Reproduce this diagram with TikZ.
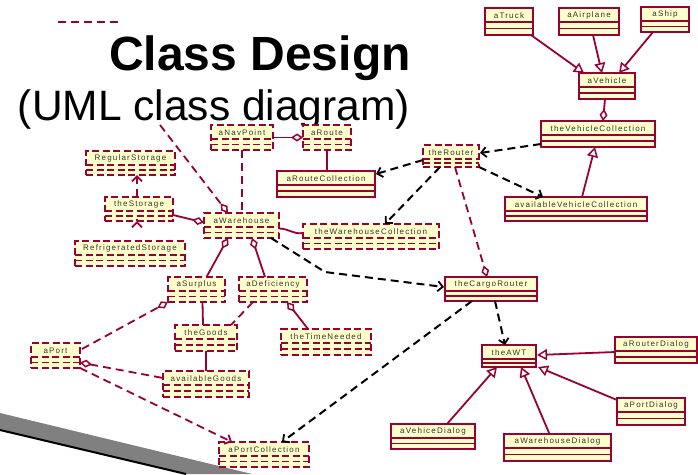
\documentclass[tikz,border=0pt]{standalone}
\usepackage{fontspec}
\setmainfont{Liberation Sans}
\newfontfamily\lblfont[LetterSpace=15]{Liberation Sans}
\usetikzlibrary{arrows.meta,calc}
\definecolor{umlred}{RGB}{153,0,51}
\definecolor{umlfill}{RGB}{255,255,204}
\definecolor{umlgray}{RGB}{128,128,128}
\tikzset{
  clsbox/.style={draw=umlred, fill=umlfill, line width=1.8pt, inner sep=0pt, outer sep=0pt},
  clsline/.style={draw=umlred, line width=1.8pt},
  objdash/.style={dash pattern=on 7pt off 3.5pt},
  plain/.style={solid},
  lbl/.style={font=\lblfont\fontsize{8}{9}\selectfont, text=black!80, inner sep=0pt},
  assoc/.style={draw=umlred, line width=1.8pt},
  rdash/.style={draw=umlred, line width=1.8pt, dash pattern=on 8pt off 5pt},
  bdash/.style={draw=black, line width=2pt, dash pattern=on 8pt off 5pt},
  gen/.style={assoc, -{Triangle[length=10pt,width=11pt,fill=white,line width=1.5pt]}},
  aggend/.style={-{Diamond[length=12pt,width=8pt,fill=white,line width=1.5pt]}},
  aggstart/.style={{Diamond[length=12pt,width=8pt,fill=white,line width=1.5pt]}-},
  barb/.style={-{Straight Barb[length=5pt,width=10pt,line width=1.8pt]}},
}
\newcommand\umlcls[7]{%
  \node[clsbox,#1,minimum width={(#5-#3)*1pt},minimum height={(#6-#4)*1pt},anchor=north west] (#2) at (#3,#4) {};
  \draw[clsline,#1] (#3,{#4+14}) -- (#5,{#4+14});
  \draw[clsline,#1] (#3,{(#4+14+#6)/2}) -- (#5,{(#4+14+#6)/2});
  \node[lbl] (#2-label) at ({(#3+#5)/2},{#4+7.5}) {#7};
}
\begin{document}
\begin{tikzpicture}[x=1pt,y=-1pt]
\path[fill=white, use as bounding box] (0,0) rectangle (698,474);
% gray bar
\fill[umlgray] (0,413) -- (252,474) -- (186,474) -- (0,430) -- cycle;
\coordinate (g1) at (0,430);
\coordinate (g2) at (186,474);
\draw[black, line width=2pt] (g1) -- (g2);
% stray dashed line
\coordinate (s1) at (58,22);
\coordinate (s2) at (122,22);
\draw[rdash, line width=1.4pt] (s1) -- (s2);
% titles
\node[anchor=base, inner sep=0pt, font=\fontsize{48}{50}\selectfont\bfseries] (title) at (260,70) {Class Design};
\node[anchor=base, inner sep=0pt, font=\fontsize{42.5}{44}\selectfont] (subtitle) at (214,120) {(UML class diagram)};

% classes (solid)
\umlcls{plain}{aTruck}{485}{8}{533}{35}{aTruck}
\umlcls{plain}{aAirplane}{559}{8}{619}{35}{aAirplane}
\umlcls{plain}{aShip}{641}{7}{689}{32}{aShip}
\umlcls{plain}{aVehicle}{579}{73}{635}{99}{aVehicle}
\umlcls{plain}{theVehicleCollection}{541}{121}{655}{147}{theVehicleCollection}
\umlcls{plain}{availableVehicleCollection}{505}{197}{647}{221}{availableVehicleCollection}
\umlcls{plain}{aRouteCollection}{277}{171}{375}{197}{aRouteCollection}
\umlcls{plain}{theCargoRouter}{445}{277}{537}{301}{theCargoRouter}
\umlcls{plain}{theAWT}{482}{345}{536}{367}{theAWT}
\umlcls{plain}{aRouterDialog}{615}{337}{697}{363}{aRouterDialog}
\umlcls{plain}{aPortDialog}{617}{398}{685}{425}{aPortDialog}
\umlcls{plain}{aVehiceDialog}{391}{424}{475}{449}{aVehiceDialog}
\umlcls{plain}{aWarehouseDialog}{504}{434}{611}{461}{aWarehouseDialog}
% objects (dashed)
\umlcls{objdash}{theRouter}{423}{145}{479}{167}{theRouter}
\umlcls{objdash}{aNavPoint}{211}{125}{273}{150}{aNavPoint}
\umlcls{objdash}{aRoute}{303}{125}{351}{150}{aRoute}
\umlcls{objdash}{RegularStorage}{86}{151}{175}{175}{RegularStorage}
\umlcls{objdash}{theStorage}{105}{197}{173}{221}{theStorage}
\umlcls{objdash}{RefrigeratedStorage}{75}{241}{185}{266}{RefrigeratedStorage}
\umlcls{objdash}{aWarehouse}{204}{213}{279}{238}{aWarehouse}
\umlcls{objdash}{theWarehouseCollection}{303}{224}{439}{249}{theWarehouseCollection}
\umlcls{objdash}{aSurplus}{168}{277}{225}{302}{aSurplus}
\umlcls{objdash}{aDeficiency}{239}{277}{307}{302}{aDeficiency}
\umlcls{objdash}{theGoods}{175}{325}{237}{351}{theGoods}
\umlcls{objdash}{theTimeNeeded}{281}{329}{371}{355}{theTimeNeeded}
\umlcls{objdash}{availableGoods}{163}{371}{249}{397}{availableGoods}
\umlcls{objdash}{aPort}{31}{343}{80}{368}{aPort}
\umlcls{objdash}{aPortCollection}{219}{442}{309}{467}{aPortCollection}

% generalizations
\draw[gen] ($(aTruck.south east)+(-2,0)$) -- ($(aVehicle.north west)+(5,0)$);
\draw[gen] ($(aAirplane.south)+(4,0)$) -- ($(aVehicle.north)+(-5,0)$);
\draw[gen] ($(aShip.south)+(-12,0)$) -- ($(aVehicle.north)+(12,0)$);
\draw[gen] ($(availableVehicleCollection.north)+(6,0)$) -- ($(theVehicleCollection.south)+(-3,0)$);
\draw[gen] ($(aRouterDialog.west)+(0,2)$) -- ($(theAWT.east)+(1,-1)$);
\draw[gen] ($(aPortDialog.north west)+(0,2)$) -- ($(theAWT.south east)+(2,0)$);
\draw[gen] ($(aWarehouseDialog.north)+(-8,0)$) -- ($(theAWT.south)+(12,0)$);
\draw[gen] ($(aVehiceDialog.north east)+(-28,0)$) -- ($(theAWT.south)+(-12,0)$);

% aggregations (solid)
\draw[assoc, aggend] ($(aVehicle.south)+(-2,0)$) -- ($(theVehicleCollection.north)+(5,0)$);
\draw[assoc, aggend] (aNavPoint.east) -- (aRoute.west);
\draw[assoc, aggend] ($(theStorage.south east)+(0,-6)$) -- ($(aWarehouse.west)+(0,-3)$);
\draw[assoc, aggend] ($(aSurplus.north)+(10,0)$) -- ($(aWarehouse.south west)+(24,0)$);
\draw[assoc, aggend] ($(aDeficiency.north)+(-8,0)$) -- ($(aWarehouse.south west)+(48,0)$);
\draw[assoc, aggend] ($(theTimeNeeded.north west)+(27,0)$) -- ($(aDeficiency.south east)+(-20,0)$);

% plain associations
\draw[assoc] (aRoute.south) -- (aRoute.south |- aRouteCollection.north);
\draw[assoc] ($(aWarehouse.east)+(0,3)$) to[out=0,in=190] ($(theWarehouseCollection.west)+(0,-3.5)$);
\draw[assoc] ($(aSurplus.south)+(6,0)$) -- ($(theGoods.north)+(-3,0)$);
\draw[assoc] (theGoods.south) -- (theGoods.south |- availableGoods.north);

% maroon dashed
\draw[rdash] (aNavPoint.south) -- (aNavPoint.south |- aWarehouse.north);
\coordinate (t1) at (160,125);
\draw[rdash, aggend] (t1) -- ($(aWarehouse.north west)+(24,0)$);
\draw[rdash, aggstart, barb] ($(theStorage.north)+(-2,0)$) -- ($(RegularStorage.south)+(6.5,0)$);
\draw[rdash, aggstart, barb] ($(theStorage.south)+(-2,0)$) -- ($(theStorage.south)+(-2,0)$ |- RefrigeratedStorage.north);
\draw[rdash, aggend] ($(theRouter.south)+(4,0)$) -- ($(theCargoRouter.north)+(-4,0)$);
\draw[rdash] ($(aDeficiency.south west)+(14,0)$) -- ($(theGoods.north east)+(-6,0)$);
\draw[rdash, aggend] ($(aPort.north east)+(2,6)$) -- (aSurplus.south west);
\draw[rdash, aggstart] ($(aPort.east)+(0,7)$) -- ($(availableGoods.west)+(0,-6)$);
\draw[rdash, barb] (aPort.south east) -- ($(aPortCollection.north west)+(13,0)$);

% black dashed dependencies
\draw[bdash, barb] ($(theVehicleCollection.south west)+(0,-3)$) -- ($(theRouter.east)+(1,-3)$);
\draw[bdash, barb] (theRouter.south east) -- ($(availableVehicleCollection.north)+(-33,0)$);
\draw[bdash, barb] ($(theRouter.west)+(0,4)$) -- ($(aRouteCollection.north east)+(1,3)$);
\draw[bdash, barb] ($(theRouter.south)+(-11,0)$) -- ($(theWarehouseCollection.north)+(14,0)$);
\coordinate (bend1) at (325,272);
\draw[bdash, barb] ($(aWarehouse.south east)+(-8,0)$) -- (bend1) -- ($(theCargoRouter.west)+(-1,-2)$);
\draw[bdash, barb] ($(theCargoRouter.south west)+(27,0)$) -- ($(aPortCollection.north east)+(-27,0)$);
\draw[bdash, barb] ($(theCargoRouter.south)+(4,0)$) -- ($(theAWT.north)+(-4,0)$);
\end{tikzpicture}
\end{document}
